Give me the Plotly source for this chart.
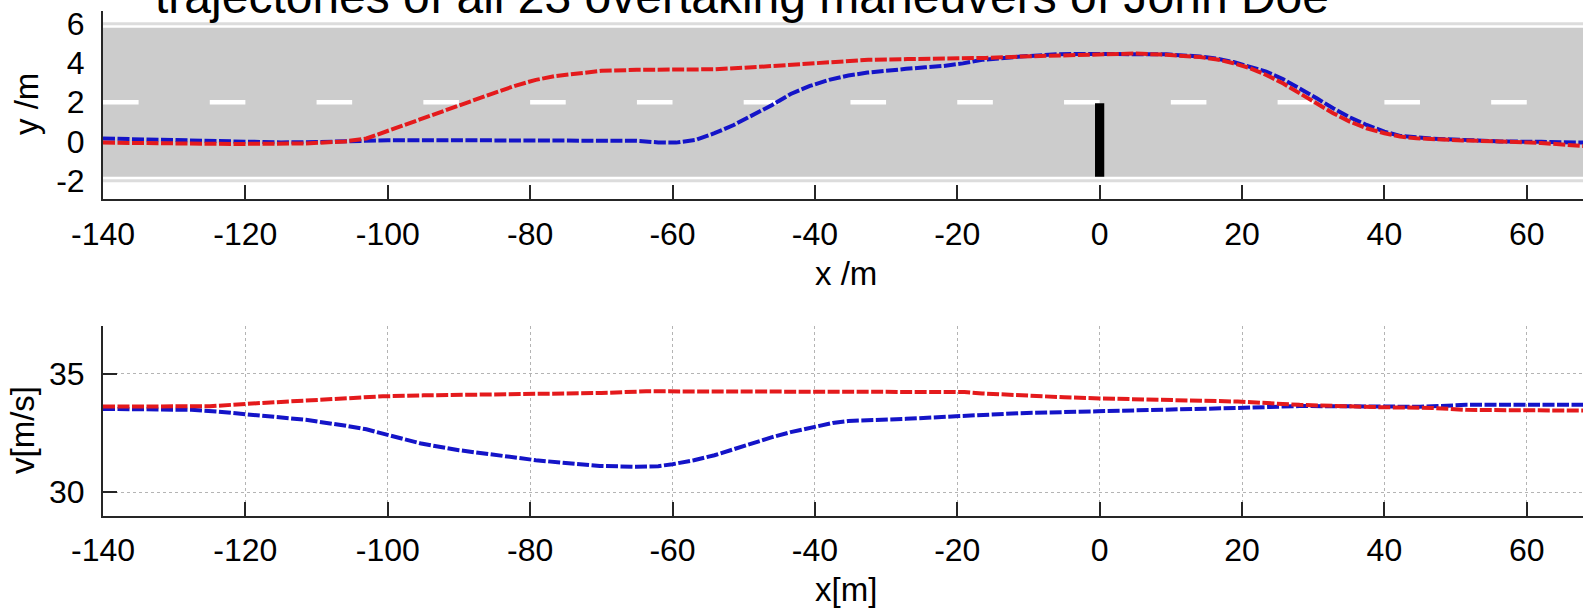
import plotly.graph_objects as go

# ---- lateral position of the overtaking vehicle (top panel) ----
red_y_x = [-140, -130, -122, -111.5, -106, -103, -100.7, -98, -95.3, -92.5, -90, -87, -84.5, -82,
           -79.2, -76.5, -73.8, -70, -65, -60, -54, -48, -43.4, -38, -32.5, -27, -22, -16, -11, -5,
           0, 5, 9.4, 14.1, 16.5, 18.8, 21, 23.4, 25.8, 28.1, 30.5, 32.8, 35.2, 37.5, 40, 42.2,
           44.5, 46.8, 51, 56.2, 62, 67.9]
red_y = [-0.06, -0.1, -0.13, -0.1, 0.0, 0.15, 0.45, 0.8, 1.18, 1.52, 1.86, 2.22, 2.54, 2.85,
         3.14, 3.33, 3.44, 3.6, 3.65, 3.66, 3.68, 3.8, 3.9, 4.05, 4.16, 4.2, 4.22, 4.26, 4.33, 4.4,
         4.46, 4.48, 4.42, 4.3, 4.18, 3.99, 3.75, 3.39, 2.95, 2.46, 1.93, 1.44, 1.0, 0.67, 0.42, 0.25,
         0.16, 0.11, 0.05, 0.0, -0.08, -0.23]

blue_y_x = [-140, -135, -130, -125, -120, -115, -110, -105, -100, -90, -80, -70, -65, -62, -59.5,
            -56.7, -54.1, -51.4, -48.7, -46, -43.4, -40.7, -38, -35.3, -32.6, -30, -27.2, -24.5,
            -21.9, -19.2, -16.5, -11.1, -5.7, 0, 5, 9.4, 14.1, 16.5, 18.8, 21, 23.4, 25.8, 28.1,
            30.5, 32.8, 35.2, 37.5, 40, 42.2, 44.5, 46.8, 51, 56.2, 62, 67.9]
blue_y = [0.15, 0.1, 0.05, 0.0, -0.05, -0.05, -0.03, 0.02, 0.06, 0.06, 0.05, 0.05, 0.03, -0.05, -0.06,
          0.08, 0.42, 0.84, 1.35, 1.86, 2.42, 2.83, 3.14, 3.36, 3.51, 3.62, 3.7, 3.78,
          3.85, 3.98, 4.16, 4.33, 4.45, 4.46, 4.45, 4.44, 4.33, 4.22, 4.05, 3.84, 3.56, 3.17, 2.71,
          2.2, 1.69, 1.22, 0.84, 0.5, 0.28, 0.19, 0.14, 0.08, 0.0, -0.02, -0.06]

# ---- speed (bottom panel) ----
red_v_x = [-140, -130, -125, -120, -115, -111.5, -106, -100.7, -95, -90, -85, -79.2, -70, -63.7,
           -55, -48.7, -40, -30, -21.9, -19, -16.5, -11.1, -5, 0, 9.4, 19.4, 28.1, 34, 39.5, 46.8,
           51.5, 60, 67.9]
red_v = [33.61, 33.61, 33.62, 33.72, 33.8, 33.89, 33.97, 34.04, 34.08, 34.1, 34.13, 34.18, 34.18,
         34.25, 34.25, 34.25, 34.25, 34.25, 34.25, 34.22, 34.16, 34.07, 34.0, 33.95, 33.89, 33.82,
         33.68, 33.62, 33.58, 33.55, 33.47, 33.45, 33.44]

blue_v_x = [-140, -132, -127.6, -124, -120, -115, -111.5, -106.1, -103, -100.7, -98, -95.3, -90,
            -84.6, -79.2, -75, -70.2, -65, -62, -60, -57, -54.1, -51.4, -48.7, -46, -43.4, -40.1,
            -37.5, -35.3, -30, -27.2, -20.2, -11.1, -0.3, 9.4, 19.4, 28.1, 34, 39.5, 45, 51.5, 60,
            67.9]
blue_v = [33.51, 33.5, 33.47, 33.4, 33.3, 33.17, 33.05, 32.81, 32.65, 32.47, 32.25, 32.05, 31.77,
          31.56, 31.35, 31.23, 31.11, 31.07, 31.1, 31.18, 31.35, 31.56, 31.82, 32.08, 32.32, 32.53,
          32.77, 32.92, 33.0, 33.05, 33.09, 33.2, 33.33, 33.41, 33.47, 33.55, 33.63, 33.62, 33.58,
          33.6, 33.68, 33.68, 33.68]

# ---- axes ticks ----
x_ticks = [-140, -120, -100, -80, -60, -40, -20, 0, 20, 40, 60]
y_ticks_top = [-2, 0, 2, 4, 6]
v_ticks = [30, 35]

# ---- road geometry ----
asphalt = [-1.8, 5.8]
road_edges = [-2.0, 6.0]
lane_line_y = 2.0
lane_dash_starts = [-140, -125, -110, -95, -80, -65, -50, -35, -20, -5, 10, 25, 40, 55]
lane_dash_len = 5
obstacle_x = 0.0
obstacle_halfwidth = 0.65
obstacle_y = [-1.8, 1.95]

RED = "#e41a1c"
BLUE = "#1414c8"
AXIS = "#262626"
FONT = "Liberation Sans, Arial, sans-serif"
TICK_SIZE = 32
LABEL_SIZE = 33


def labels(vals):
    # plain hyphen for negative numbers
    return [str(v) for v in vals]


fig = go.Figure()

line_style = dict(width=4, dash="12px,2.5px")
fig.add_trace(go.Scatter(x=blue_y_x, y=blue_y, mode="lines", xaxis="x", yaxis="y",
                         line=dict(color=BLUE, **line_style), showlegend=False))
fig.add_trace(go.Scatter(x=red_y_x, y=red_y, mode="lines", xaxis="x", yaxis="y",
                         line=dict(color=RED, **line_style), showlegend=False))
fig.add_trace(go.Scatter(x=blue_v_x, y=blue_v, mode="lines", xaxis="x2", yaxis="y2",
                         line=dict(color=BLUE, **line_style), showlegend=False))
fig.add_trace(go.Scatter(x=red_v_x, y=red_v, mode="lines", xaxis="x2", yaxis="y2",
                         line=dict(color=RED, **line_style), showlegend=False))

shapes = []
# asphalt
shapes.append(dict(type="rect", xref="x domain", yref="y", x0=0, x1=1,
                   y0=asphalt[0], y1=asphalt[1], fillcolor="#cccccc",
                   line=dict(width=0), layer="below"))
# road edges
for ye in road_edges:
    shapes.append(dict(type="line", xref="x domain", yref="y", x0=0, x1=1, y0=ye, y1=ye,
                       line=dict(color="#dcdcdc", width=3), layer="below"))
# lane marking
for xs in lane_dash_starts:
    shapes.append(dict(type="line", xref="x", yref="y", x0=xs, x1=xs + lane_dash_len,
                       y0=lane_line_y, y1=lane_line_y,
                       line=dict(color="white", width=4.5), layer="below"))
# obstacle
shapes.append(dict(type="rect", xref="x", yref="y",
                   x0=obstacle_x - obstacle_halfwidth, x1=obstacle_x + obstacle_halfwidth,
                   y0=obstacle_y[0], y1=obstacle_y[1], fillcolor="black",
                   line=dict(width=0), layer="below"))

tickfont = dict(family=FONT, size=TICK_SIZE, color="black")
xaxis_common = dict(range=[-140, 67.9], tickvals=x_ticks, ticktext=labels(x_ticks),
                    ticks="inside", ticklen=14, tickwidth=1.5, tickcolor=AXIS,
                    showline=True, linecolor=AXIS, linewidth=2, zeroline=False,
                    automargin=False, ticklabelstandoff=5, tickfont=tickfont)

fig.update_layout(
    width=1583, height=608,
    margin=dict(l=103, r=0, t=0, b=0),
    paper_bgcolor="white", plot_bgcolor="white",
    shapes=shapes,
    xaxis=dict(domain=[0, 1], anchor="y", showgrid=False, **xaxis_common),
    yaxis=dict(domain=[0.6722, 0.9819], anchor="x", range=[-2.95, 6.65],
               tickvals=y_ticks_top, ticktext=labels(y_ticks_top), ticks="", showline=True,
               linecolor=AXIS, linewidth=2, showgrid=False, zeroline=False, automargin=False,
               ticklabelstandoff=10, tickfont=tickfont),
    xaxis2=dict(domain=[0, 1], anchor="y2", showgrid=True, gridcolor="#b4b4b4",
                griddash="dot", gridwidth=1, **xaxis_common),
    yaxis2=dict(domain=[0.1513, 0.4638], anchor="x2", range=[29, 37], tickvals=v_ticks,
                ticktext=labels(v_ticks), ticks="inside", ticklen=14, tickwidth=1.5,
                tickcolor=AXIS, showline=True, linecolor=AXIS, linewidth=2, showgrid=True,
                gridcolor="#b4b4b4", griddash="dot", gridwidth=1, zeroline=False,
                automargin=False, ticklabelstandoff=10, tickfont=tickfont),
    annotations=[
        dict(text="trajectories of all 23 overtaking maneuvers of John Doe",
             xref="paper", yref="paper", x=0.0338, y=1 - 25 / 608,
             xanchor="left", yanchor="bottom", showarrow=False,
             font=dict(family=FONT, size=48, color="black")),
        dict(text="y /m", xref="paper", yref="paper", x=(27 - 103) / 1480, y=1 - 104 / 608,
             xanchor="center", yanchor="middle", textangle=-90, showarrow=False,
             font=dict(family=FONT, size=LABEL_SIZE, color="black")),
        dict(text="x /m", xref="paper", yref="paper", x=(846 - 103) / 1480, y=1 - 273 / 608,
             xanchor="center", yanchor="middle", showarrow=False,
             font=dict(family=FONT, size=LABEL_SIZE, color="black")),
        dict(text="v[m/s]", xref="paper", yref="paper", x=(22 - 103) / 1480, y=1 - 430 / 608,
             xanchor="center", yanchor="middle", textangle=-90, showarrow=False,
             font=dict(family=FONT, size=LABEL_SIZE, color="black")),
        dict(text="x[m]", xref="paper", yref="paper", x=(846 - 103) / 1480, y=1 - 589 / 608,
             xanchor="center", yanchor="middle", showarrow=False,
             font=dict(family=FONT, size=LABEL_SIZE, color="black")),
    ],
)

fig.write_html("out.html")
